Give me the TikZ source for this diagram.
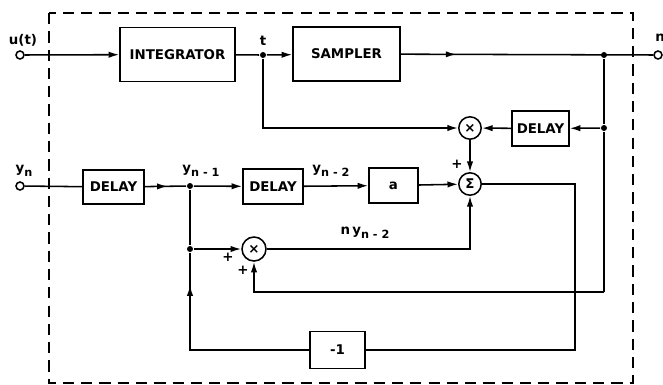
\documentclass[tikz,border=0pt]{standalone}
\usepackage{fontspec}
\setmainfont{DejaVu Sans}
\usetikzlibrary{positioning, arrows.meta, decorations.markings}

\newcommand{\lowsub}[1]{\raisebox{-0.6ex}{\fontsize{8}{9}\selectfont #1}}

\begin{document}
\begin{tikzpicture}[
        x=0.025cm, y=-0.025cm,
        line width=1.1pt,
        font=\bfseries\fontsize{9.5}{11}\selectfont,
        bigbox/.style={draw, rectangle, minimum width=2.8cm, minimum height=1.36cm, align=center},
        delaybox/.style={draw, rectangle, minimum width=1.5cm, minimum height=0.87cm, inner sep=0pt},
        op/.style={draw, circle, minimum size=0.56cm, inner sep=0pt, fill=white},
        term/.style={draw, circle, minimum size=0.2cm, inner sep=0pt, fill=white},
        dot/.style={circle, fill, minimum size=0.15cm, inner sep=0pt},
        arrow/.style={-{Latex[length=7.5pt,width=4.5pt]}},
        midarrow/.style={postaction={decorate}, decoration={markings, mark=at position #1 with {\arrow{Latex[length=7.5pt,width=4.5pt]}}}},
        frame/.style={dashed, line width=1.2pt, dash pattern=on 8pt off 5pt}
    ]
    \useasboundingbox (0,0) rectangle (663,384);

    % outer dashed frame
    \draw[frame] (49,13) rectangle (633,383);

    % upper path
    \node[term] (uin) at (20,55) {};
    \node (ulab) at (23,40) {u(t)};
    \node[bigbox, minimum width=2.875cm] (Integ) at (177.5,54.5) {INTEGRATOR};
    \node[dot] (Jt) at (263,55) {};
    \node (tlab) at (263,41) {t};
    \node[bigbox, minimum width=2.675cm] (Sampler) at (346.5,54) {SAMPLER};
    \node[dot] (Jout1) at (604,55) {};
    \node[term] (nout) at (658,55) {};
    \node (nlab) at (660,38) {n};

    \node[op] (Mul1) at (470,128) {×};
    \node[delaybox, minimum width=1.425cm] (Delay3) at (540.5,128.5) {DELAY};
    \node[dot] (Jout2) at (604,128) {};
    \coordinate (fb) at (604,292);

    % lower path
    \node[term] (yin) at (20,186) {};
    \node (ylab) at (24,171) {y\lowsub{n}};
    \node[delaybox, minimum width=1.525cm, minimum height=0.85cm] (Delay1) at (113.5,187) {DELAY};
    \node[dot] (Jn1) at (190,186) {};
    \node (yn1lab) at (201,171) {y\lowsub{n - 1}};
    \node[delaybox] (Delay2) at (273,186.5) {DELAY};
    \node (yn2lab) at (331,171) {y\lowsub{n - 2}};
    \node[delaybox, minimum width=1.225cm] (Abox) at (393.5,185.5) {a};
    \node[op] (Sum) at (470,184) {Σ};
    \node (plus1) at (457,164) {+};

    \node[dot] (Jn2) at (190,249) {};
    \node[op, minimum size=0.6cm] (Mul2) at (254,249) {×};
    \node (plus2) at (228,257) {+};
    \node (plus3) at (243,270) {+};
    \node (nylab) at (365,233) {n\,y\lowsub{n - 2}};
    \node[delaybox, minimum width=1.375cm, minimum height=0.925cm] (Neg) at (337.5,350) {-1};

    % connectors
    \draw[arrow] (uin) -- (Integ);
    \draw (Integ) -- (Jt);
    \draw[arrow] (Jt) -- (Sampler);
    \draw[midarrow=0.22] (Sampler) -- (nout);
    \draw[arrow] (Jt) |- (Mul1);
    \draw (Jout1) -- (Jout2);
    \draw[arrow] (Jout2) -- (Delay3);
    \draw[arrow] (Delay3) -- (Mul1);
    \draw[arrow] (Mul1) -- (Sum);
    \draw (Jout2) -- (fb);
    \draw[arrow] (fb) -| (Mul2);

    \draw (yin) -- (Delay1);
    \draw[midarrow=0.55] (Delay1) -- (Jn1);
    \draw[arrow] (Jn1) -- (Delay2);
    \draw[arrow] (Delay2) -- (Abox);
    \draw[arrow] (Abox) -- (Sum);
    \draw (Jn1) -- (Jn2);
    \draw[arrow] (Jn2) -- (Mul2);
    \draw[arrow] (Mul2) -| (Sum);
    \draw (Sum) -- ++(105,0) |- (Neg);
    \draw[midarrow=0.85] (Neg) -| (Jn2);

\end{tikzpicture}
\end{document}
